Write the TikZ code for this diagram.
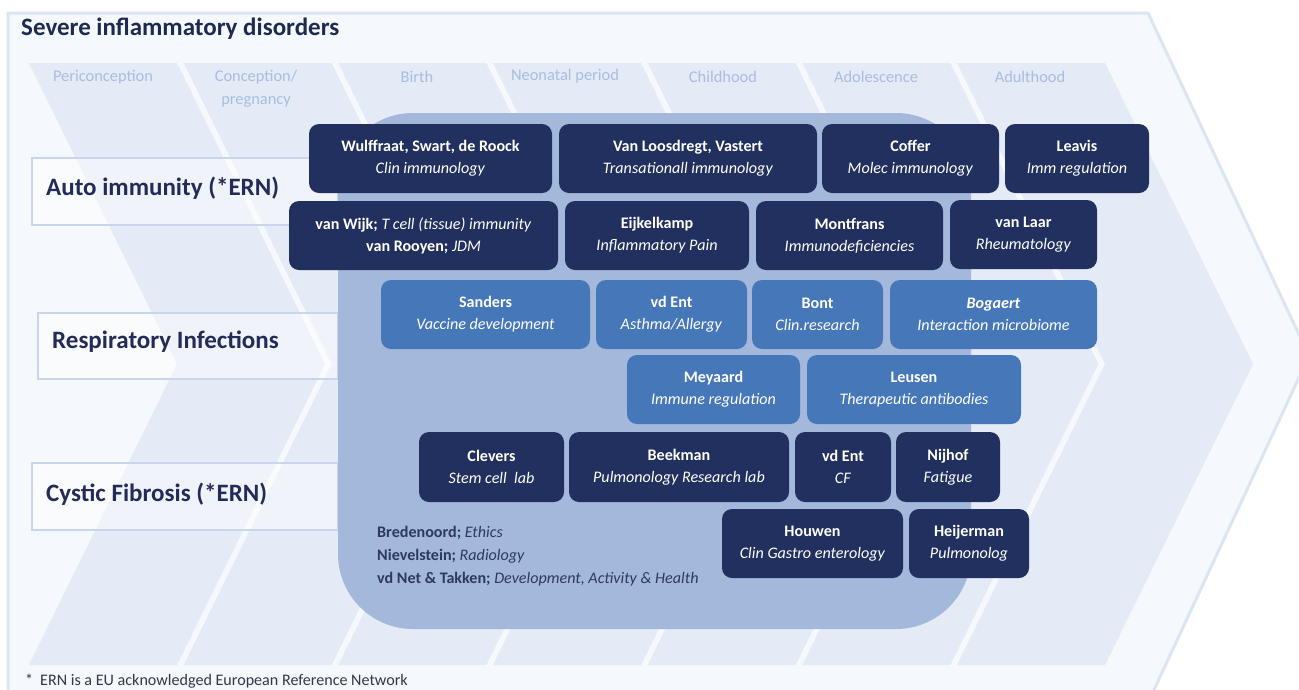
\documentclass[tikz,border=0pt]{standalone}
\usepackage{fontspec}
\setmainfont{Carlito}
\definecolor{navy}{HTML}{21305E}
\definecolor{midblue}{HTML}{4677B8}
\definecolor{bigrect}{HTML}{A4B8DB}
\definecolor{colfill}{HTML}{E4EAF6}
\definecolor{outerfill}{HTML}{F5F8FD}
\definecolor{outerline}{HTML}{DCE6F3}
\definecolor{phasetext}{HTML}{A9BDE2}
\definecolor{titletext}{HTML}{1F2A50}
\definecolor{rowtext}{HTML}{242B58}
\definecolor{rowline}{HTML}{C8D5EC}
\definecolor{smalltext}{HTML}{2E3A5C}
\definecolor{foottext}{HTML}{333844}
\newcommand{\rbox}[7]{%
  \node[#6, minimum width={#4-#2}, minimum height={#5-#3}] (#1) at ({(#2+#4)/2},{(#3+#5)/2}) {#7};}
\begin{document}
\begin{tikzpicture}[x=1pt,y=-1pt,
  cardbox/.style={rounded corners=10pt, inner sep=0pt, align=center, text=white,
    font=\fontsize{16.1}{22}\selectfont},
  navybox/.style={cardbox, fill=navy},
  bluebox/.style={cardbox, fill=midblue},
  phase/.style={text=phasetext, font=\fontsize{16.4}{23}\selectfont, inner sep=0pt, align=center},
  rowlab/.style={text=rowtext, font=\fontsize{25}{28}\selectfont\bfseries, inner sep=0pt, anchor=west},
  rowbox/.style={draw=rowline, line width=2.6pt, fill=white, fill opacity=0.45},
  small/.style={text=smalltext, font=\fontsize{16.1}{18}\selectfont, inner sep=0pt, anchor=west}]
\useasboundingbox (0,0) rectangle (1299,689);
\clip (0,0) rectangle (1299,689);
\fill[white] (0,0) rectangle (1299,689);
% outer chevron
\fill[outerfill] (8,13) -- (1148,13) -- (1309,356) -- (1153,689) -- (1140,720) -- (8,720) -- cycle;
\draw[outerline, line width=3pt] (8,720) -- (8,13) -- (1148,13) -- (1309,356) -- (1140,720);
% phase chevrons
\foreach \i in {0,...,6}{
  \pgfmathsetmacro{\L}{29+154.67*\i}
  \fill[colfill] (\L,63) -- ({\L+148},63) -- ({\L+296},364) -- ({\L+148},665) -- (\L,665) -- ({\L+148},364) -- cycle;
}
% title
\node[text=titletext, font=\fontsize{25}{28}\selectfont\bfseries, inner sep=0pt, anchor=west] (title) at (21,29) {Severe inflammatory disorders};
% phase labels
\node[phase] (p1) at (103,77) {Periconception};
\node[phase] (p2) at (256,88.5) {Conception/\\pregnancy};
\node[phase] (p3) at (417,77) {Birth};
\node[phase] (p4) at (565,76) {Neonatal period};
\node[phase] (p5) at (723,77) {Childhood};
\node[phase] (p6) at (876,77) {Adolescence};
\node[phase] (p7) at (1030,77) {Adulthood};
% row label boxes
\draw[rowbox] (32,158) rectangle (338,225);
\draw[rowbox] (38,313) rectangle (338,379);
\draw[rowbox] (32,463) rectangle (338,530);
\node[rowlab] (r1) at (46,188) {Auto immunity (*ERN)};
\node[rowlab] (r2) at (52,342) {Respiratory Infections};
\node[rowlab] (r3) at (46,494) {Cystic Fibrosis (*ERN)};
% big rounded area
\fill[bigrect, rounded corners=75pt] (338,113) rectangle (971,629);
% row 1
\rbox{b11}{309}{124}{552}{193}{navybox}{\textbf{Wulffraat, Swart, de Roock}\\\textit{Clin immunology}}
\rbox{b12}{559}{124}{817}{193}{navybox}{\textbf{Van Loosdregt, Vastert}\\\textit{Transationall immunology}}
\rbox{b13}{822}{124}{999}{193}{navybox}{\textbf{Coffer}\\\textit{Molec immunology}}
\rbox{b14}{1005}{124}{1149}{193}{navybox}{\textbf{Leavis}\\\textit{Imm regulation}}
% row 2
\rbox{b21}{289}{201}{558}{270}{navybox}{\textbf{van Wijk;} \textit{T cell (tissue) immunity}\\\textbf{van Rooyen;} \textit{JDM}}
\rbox{b22}{565}{201}{749}{270}{navybox}{\textbf{Eijkelkamp}\\\textit{Inflammatory Pain}}
\rbox{b23}{756}{201}{943}{270}{navybox}{\textbf{Montfrans}\\\textit{Immunodeficiencies}}
\rbox{b24}{950}{200}{1097}{269}{navybox}{\textbf{van Laar}\\\textit{Rheumatology}}
% row 3
\rbox{b31}{381}{280}{590}{349}{bluebox}{\textbf{Sanders}\\\textit{Vaccine development}}
\rbox{b32}{596}{280}{747}{349}{bluebox}{\textbf{vd Ent}\\\textit{Asthma/Allergy}}
\rbox{b33}{752}{280}{883}{349}{bluebox}{\textbf{Bont}\\\textit{Clin.research}}
\rbox{b34}{890}{280}{1097}{349}{bluebox}{\textbf{\textit{Bogaert}}\\\textit{Interaction microbiome}}
% row 4
\rbox{b41}{627}{355}{800}{424}{bluebox}{\textbf{Meyaard}\\\textit{Immune regulation}}
\rbox{b42}{807}{355}{1021}{424}{bluebox}{\textbf{Leusen}\\\textit{Therapeutic antibodies}}
% row 5
\rbox{b51}{419}{432}{564}{502}{navybox}{\textbf{Clevers}\\\textit{Stem cell\ \ lab}}
\rbox{b52}{569}{432}{789}{502}{navybox}{\textbf{Beekman}\\\textit{Pulmonology Research lab}}
\rbox{b53}{795}{432}{891}{502}{navybox}{\textbf{vd Ent}\\\textit{CF}}
\rbox{b54}{896}{432}{1000}{502}{navybox}{\textbf{Nijhof}\\\textit{Fatigue}}
% row 6
\rbox{b61}{722}{509}{903}{578}{navybox}{\textbf{Houwen}\\\textit{Clin Gastro enterology}}
\rbox{b62}{909}{509}{1029}{578}{navybox}{\textbf{Heijerman}\\\textit{Pulmonolog}}
% other staff
\node[small] (s1) at (377,533) {\textbf{Bredenoord;} \textit{Ethics}};
\node[small] (s2) at (377,556) {\textbf{Nievelstein;} \textit{Radiology}};
\node[small] (s3) at (377,579) {\textbf{vd Net \& Takken;} \textit{Development, Activity \& Health}};
% footnote
\node[text=foottext, font=\fontsize{16.1}{18}\selectfont, inner sep=0pt, anchor=west] (foot) at (25,681) {*\hspace{7pt}ERN is a EU acknowledged European Reference Network};
\end{tikzpicture}
\end{document}
